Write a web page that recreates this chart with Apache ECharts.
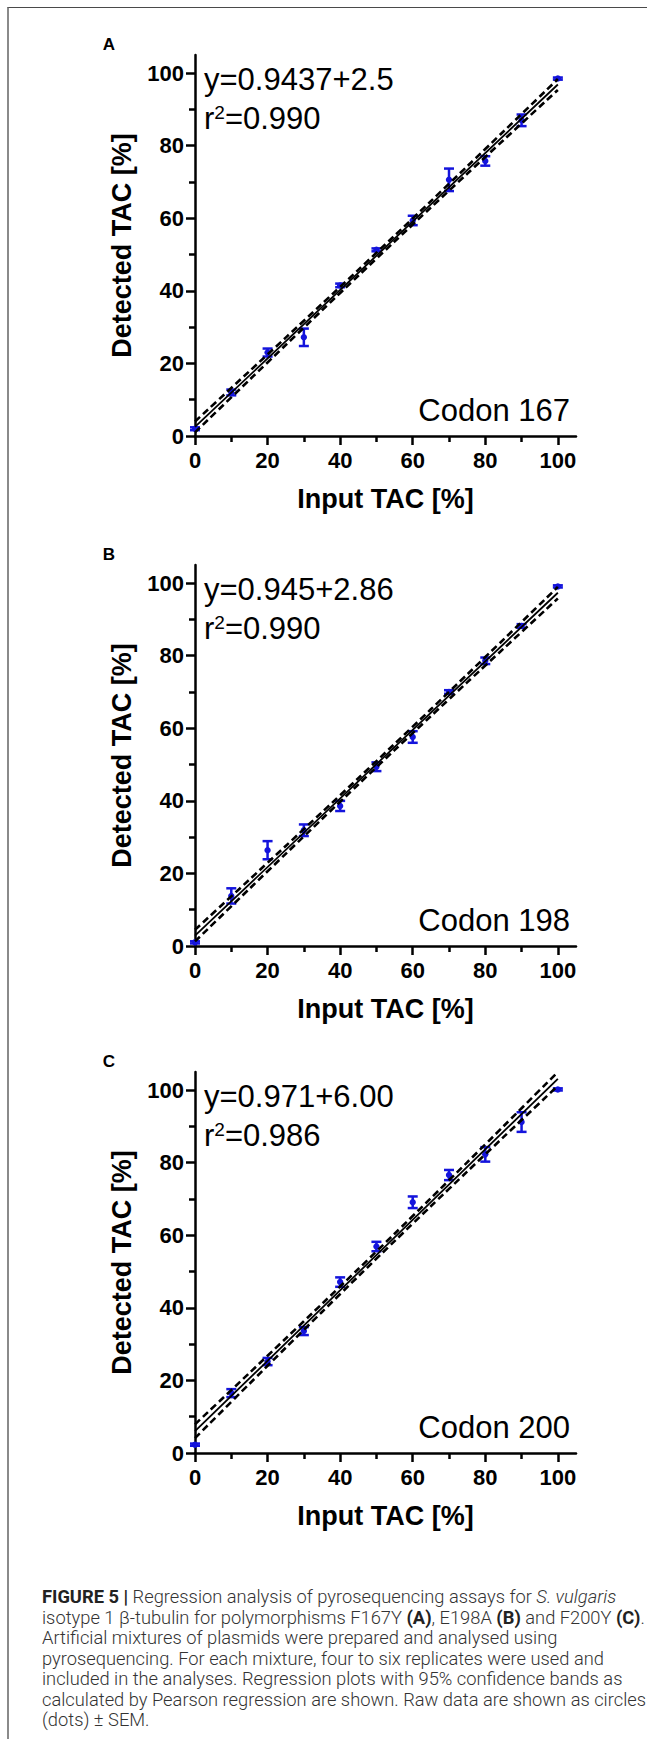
<!DOCTYPE html>
<html>
<head>
<meta charset="utf-8">
<script src="https://cdn.jsdelivr.net/npm/echarts@6/dist/echarts.min.js"></script>
<style>
  html, body { margin: 0; padding: 0; background: #fff; }
  #wrap { position: relative; width: 654px; height: 1739px; overflow: hidden; }
  #frame { position: absolute; left: 7px; top: 7px; width: 640px; height: 1740px;
           border-top: 1.5px solid #4a4a4a; border-left: 2px solid #8a8a8a; box-sizing: border-box; }
  #c { position: absolute; left: 0; top: 0; width: 654px; height: 1739px; }
  #cap { position: absolute; left: 42px; top: 1587px; font-family: Roboto, "Liberation Sans", sans-serif;
         font-weight: 300; font-size: 18px; line-height: 20.5px; color: #333; white-space: nowrap;
         transform-origin: 0 0; }
  #cap b { font-weight: 700; color: #222; }
</style>
</head>
<body>
<div id="wrap">
  <div id="frame"></div>
  <div id="c"></div>
  <div id="cap"><b>FIGURE 5 |</b> Regression analysis of pyrosequencing assays for <i>S. vulgaris</i><br>isotype 1 β-tubulin for polymorphisms F167Y <b>(A)</b>, E198A <b>(B)</b> and F200Y <b>(C)</b>.<br>Artificial mixtures of plasmids were prepared and analysed using<br>pyrosequencing. For each mixture, four to six replicates were used and<br>included in the analyses. Regression plots with 95% confidence bands as<br><span id="l6">calculated by Pearson regression are shown. Raw data are shown as circles</span><br>(dots) ± SEM.</div>
</div>
<script>
// ---------------- data ----------------
const inputTAC = [0, 10, 20, 30, 40, 50, 60, 70, 80, 90, 100];
const xTickMajor = [0, 20, 40, 60, 80, 100];
const xTickMinor = [10, 30, 50, 70, 90];
const yTickMajor = [0, 20, 40, 60, 80, 100];
const yTickMinor = [10, 30, 50, 70, 90];

const panelLetters = ['A', 'B', 'C'];
const codonLabels = ['Codon 167', 'Codon 198', 'Codon 200'];
const equationLabels = ['y=0.9437+2.5', 'y=0.945+2.86', 'y=0.971+6.00'];
const r2Labels = ['0.990', '0.990', '0.986'];

// detected TAC means and SEM
const meanA = [2.0, 12.0, 23.0, 27.2, 41.5, 51.3, 59.4, 70.6, 75.8, 87.0, 98.5];
const semA  = [0.4, 0.8, 1.1, 2.4, 0.5, 0.4, 1.3, 3.1, 1.3, 1.6, 0.3];
const meanB = [1.0, 13.8, 26.4, 31.9, 38.6, 49.4, 57.6, 70.0, 78.6, 88.2, 99.1];
const semB  = [0.3, 2.1, 2.5, 1.6, 1.4, 1.2, 1.6, 0.5, 0.9, 0.5, 0.3];
const meanC = [2.3, 16.5, 25.2, 33.6, 47.1, 56.9, 69.1, 76.6, 82.3, 91.2, 100.2];
const semC  = [0.3, 1.1, 1.0, 1.1, 1.3, 1.3, 1.6, 1.4, 2.0, 2.7, 0.3];

// regression line end points (x = 0 and x = 100)
const fitX = [0, 100];
const fitA = [2.5, 96.87];
const fitB = [2.86, 97.36];
const fitC = [6.0, 103.1];

// 95% confidence bands at inputTAC
const upperA = [4.00, 13.23, 22.47, 31.76, 41.09, 50.49, 59.96, 69.51, 79.10, 88.72, 98.37];
const lowerA = [1.00, 10.65, 20.27, 29.86, 39.41, 48.89, 58.28, 67.61, 76.90, 86.14, 95.37];
const upperB = [4.46, 13.68, 22.93, 32.22, 41.55, 50.96, 60.45, 70.02, 79.63, 89.28, 98.96];
const lowerB = [1.26, 10.94, 20.59, 30.20, 39.77, 49.26, 58.67, 68.00, 77.29, 86.54, 95.76];
const upperC = [7.90, 17.33, 26.80, 36.32, 45.89, 55.55, 65.31, 75.16, 85.06, 95.01, 105.00];
const lowerC = [4.10, 14.09, 24.04, 33.94, 43.79, 53.55, 63.21, 72.78, 82.30, 91.77, 101.20];

const panels = [
  { mean: meanA, sem: semA, fit: fitA, upper: upperA, lower: lowerA },
  { mean: meanB, sem: semB, fit: fitB, upper: upperB, lower: lowerB },
  { mean: meanC, sem: semC, fit: fitC, upper: upperC, lower: lowerC }
];

// ---------------- layout ----------------
const FONT = '"Liberation Sans", Arial, Helvetica, sans-serif';
const BLUE = '#1414dc';
const AXMAX = 105;
const GRID_LEFT = 195, GRID_W = 381, GRID_H = 381;
const panelBase = [436, 946, 1453]; // pixel y of the x-axis in each panel

const grids = [], xAxes = [], yAxes = [], series = [], graphics = [];

const lineSt = { color: '#000', width: 2.5 };
const labelSt = { fontFamily: FONT, fontWeight: 'bold', fontSize: 22, color: '#000' };
const nameSt = { fontFamily: FONT, fontWeight: 'bold', fontSize: 27, color: '#000' };

panels.forEach((p, i) => {
  const base = panelBase[i];
  grids.push({ left: GRID_LEFT, top: base - GRID_H, width: GRID_W, height: GRID_H,
               containLabel: false, outerBoundsMode: 'none' });
  xAxes.push({
    type: 'value', gridIndex: i, min: 0, max: AXMAX, position: 'bottom',
    axisLine: { show: true, onZero: false, lineStyle: lineSt },
    axisTick: { show: true, inside: false, length: 9, customValues: xTickMajor, lineStyle: lineSt },
    axisLabel: { show: true, customValues: xTickMajor, margin: 13, ...labelSt },
    splitLine: { show: false },
    name: 'Input TAC [%]', nameLocation: 'middle', nameGap: 49, nameTextStyle: nameSt
  });
  xAxes.push({
    type: 'value', gridIndex: i, min: 0, max: AXMAX, position: 'bottom',
    axisLine: { show: false, onZero: false },
    axisTick: { show: true, inside: false, length: 6, customValues: xTickMinor, lineStyle: lineSt },
    axisLabel: { show: false }, splitLine: { show: false }
  });
  yAxes.push({
    type: 'value', gridIndex: i, min: 0, max: AXMAX, position: 'left',
    axisLine: { show: true, onZero: false, lineStyle: lineSt },
    axisTick: { show: true, inside: false, length: 9, customValues: yTickMajor, lineStyle: lineSt },
    axisLabel: { show: true, customValues: yTickMajor, margin: 11, ...labelSt },
    splitLine: { show: false },
    name: 'Detected TAC [%]', nameLocation: 'middle', nameGap: 60, nameRotate: 90, nameTextStyle: nameSt
  });
  yAxes.push({
    type: 'value', gridIndex: i, min: 0, max: AXMAX, position: 'left',
    axisLine: { show: false, onZero: false },
    axisTick: { show: true, inside: false, length: 6, customValues: yTickMinor, lineStyle: lineSt },
    axisLabel: { show: false }, splitLine: { show: false }
  });

  const xi = 2 * i, yi = 2 * i;
  series.push({
    type: 'custom', xAxisIndex: xi, yAxisIndex: yi, z: 2, clip: false,
    data: inputTAC.map((x, j) => [x, p.mean[j], p.sem[j]]),
    renderItem: (params, api) => {
      const x = api.value(0), m = api.value(1), s = api.value(2);
      const t = api.coord([x, m + s]), b = api.coord([x, m - s]), c = api.coord([x, m]);
      const w = 5;
      const st = { stroke: BLUE, lineWidth: 2.5, fill: null };
      return { type: 'group', children: [
        { type: 'line', shape: { x1: t[0], y1: t[1], x2: b[0], y2: b[1] }, style: st },
        { type: 'line', shape: { x1: t[0] - w, y1: t[1], x2: t[0] + w, y2: t[1] }, style: st },
        { type: 'line', shape: { x1: b[0] - w, y1: b[1], x2: b[0] + w, y2: b[1] }, style: st },
        { type: 'circle', shape: { cx: c[0], cy: c[1], r: 3.2 }, style: { fill: BLUE } }
      ]};
    }
  });
  series.push({
    type: 'line', xAxisIndex: xi, yAxisIndex: yi, z: 4, symbol: 'none', silent: true,
    data: fitX.map((x, j) => [x, p.fit[j]]),
    lineStyle: { color: '#000', width: 1.8 }
  });
  [p.upper, p.lower].forEach(band => {
    series.push({
      type: 'line', xAxisIndex: xi, yAxisIndex: yi, z: 3, symbol: 'none', smooth: true, silent: true,
      data: inputTAC.map((x, j) => [x, band[j]]),
      lineStyle: { color: '#000', width: 2.6, type: [7, 4] }
    });
  });

  graphics.push({ type: 'text', x: 109, y: base - 392, style: {
    text: panelLetters[i], font: 'bold 17px ' + FONT, fill: '#000',
    textAlign: 'center', align: 'center', textVerticalAlign: 'middle', verticalAlign: 'middle' } });
  graphics.push({ type: 'text', x: 204, y: base - 357, style: {
    text: equationLabels[i], font: '31px ' + FONT, fill: '#000',
    textAlign: 'left', align: 'left', textVerticalAlign: 'middle', verticalAlign: 'middle' } });
  graphics.push({ type: 'text', x: 204, y: base - 318, style: {
    text: '{a|r}{b|2}{a|=' + r2Labels[i] + '}',
    rich: {
      a: { font: '31px ' + FONT, fill: '#000', verticalAlign: 'middle' },
      b: { font: '19px ' + FONT, fill: '#000', verticalAlign: 'top' }
    },
    textAlign: 'left', align: 'left', textVerticalAlign: 'middle', verticalAlign: 'middle' } });
  graphics.push({ type: 'text', x: 570, y: base - 26, style: {
    text: codonLabels[i], font: '31px ' + FONT, fill: '#000',
    textAlign: 'right', align: 'right', textVerticalAlign: 'middle', verticalAlign: 'middle' } });
});

const chart = echarts.init(document.getElementById('c'), null, { renderer: 'svg', width: 654, height: 1739 });
chart.setOption({
  animation: false,
  backgroundColor: 'transparent',
  grid: grids, xAxis: xAxes, yAxis: yAxes, series: series, graphic: graphics
});

// condense the caption horizontally so the widest line spans the measured width
(function () {
  const cap = document.getElementById('cap');
  const l6 = document.getElementById('l6');
  const target = 604;
  const w = l6.getBoundingClientRect().width;
  if (w > 0) cap.style.transform = 'scaleX(' + (target / w).toFixed(4) + ')';
})();
</script>
</body>
</html>
